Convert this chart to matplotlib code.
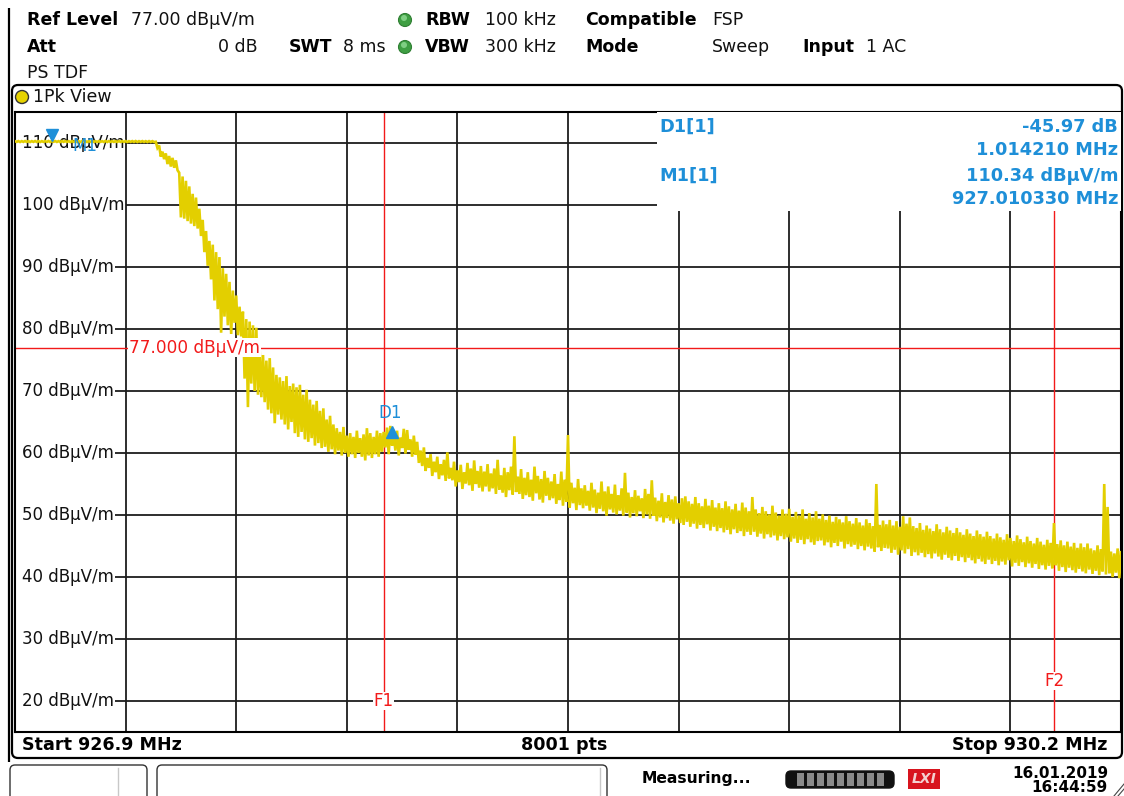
import numpy as np
import matplotlib
matplotlib.use("Agg")
import matplotlib.pyplot as plt
from matplotlib.patches import FancyBboxPatch, Rectangle, Circle
import matplotlib.transforms as mtransforms

# ---------------- data ----------------
start_mhz = 926.9
stop_mhz = 930.2
bin_mhz = 0.01          # display bin width of the peak/floor pairs below

trace_peak = [
    110.30, 110.31, 110.30, 110.32, 110.31, 110.30, 110.32, 110.31, 110.30, 110.31,
    110.32, 110.34, 110.31, 110.30, 110.32, 110.31, 110.30, 110.31, 110.32, 110.30,
    110.31, 110.30, 110.32, 110.31, 110.30, 110.31, 110.30, 110.32, 110.31, 110.30,
    110.31, 110.32, 110.30, 110.31, 110.30, 110.31, 110.32, 110.30, 110.31, 110.30,
    110.31, 110.30, 110.20, 109.6, 108.6, 108.3, 107.9, 107.6, 107.2, 105.2,
    104.6, 103.9, 103.0, 101.8, 101.2, 99.4, 97.6, 95.8, 94.2, 93.6,
    92.4, 91.6, 89.8, 88.9, 87.6, 86.2, 85.4, 83.6, 82.8, 81.6,
    81.2, 80.6, 80.2, 76.6, 75.8, 74.9, 75.3, 73.8, 72.6, 72.2,
    71.6, 72.4, 70.8, 71.2, 70.6, 71.0, 69.4, 70.2, 68.6, 67.8,
    68.4, 66.8, 67.2, 65.4, 66.0, 64.6, 64.0, 63.4, 64.2, 62.8,
    63.2, 62.6, 63.6, 62.4, 63.0, 64.0, 63.2, 62.6, 63.6, 63.2,
    63.4, 64.1, 64.37, 62.9, 63.6, 62.5, 63.9, 63.7, 62.2, 62.8,
    61.8, 60.4, 60.9, 59.2, 59.8, 58.6, 59.4, 58.2, 58.9, 60.1,
    57.6, 58.6, 57.2, 58.1, 56.9, 58.4, 57.5, 58.8, 57.1, 57.9,
    57.0, 58.2, 56.7, 57.5, 58.9, 56.4, 57.6, 56.9, 57.8, 62.7,
    56.2, 57.4, 56.0, 56.9, 55.7, 57.8, 56.3, 55.8, 57.1, 56.0,
    55.4, 56.6, 55.0, 57.0, 55.7, 62.9, 55.2, 54.4, 55.8, 54.3,
    54.8, 53.9, 55.2, 54.1, 53.6, 55.4, 53.8, 54.6, 53.4, 54.9,
    53.2, 54.3, 56.8, 53.6, 52.9, 54.0, 53.1, 52.7, 54.2, 53.4,
    55.6, 52.8, 52.3, 53.5, 52.1, 53.2, 52.5, 53.0, 51.9, 52.7,
    53.0, 52.2, 51.8, 52.9, 51.9, 51.4, 52.6, 51.5, 52.4, 51.2,
    51.9, 51.1, 52.2, 51.4, 50.9, 51.8, 50.7, 52.0, 51.2, 50.6,
    52.9, 50.9, 50.3, 51.3, 50.6, 50.1, 51.5, 50.4, 49.9, 50.9,
    50.2, 51.0, 49.7, 50.5, 49.9, 50.9, 49.4, 50.3, 49.6, 50.6,
    49.4, 50.1, 49.2, 49.9, 48.9, 49.7, 49.3, 48.8, 49.8, 49.0,
    48.6, 49.5, 48.8, 48.3, 49.3, 48.7, 48.2, 55.0, 48.4, 49.1,
    48.5, 49.2, 48.3, 49.0, 48.1, 49.8, 48.6, 49.6, 48.2, 47.9,
    48.7, 47.6, 48.3, 47.8, 47.4, 48.5, 47.7, 47.2, 48.1, 47.5,
    47.1, 47.9, 47.2, 46.8, 47.7, 47.0, 46.6, 47.5, 46.9, 46.5,
    47.3, 46.6, 46.2, 47.0, 46.4, 46.0, 46.9, 46.3, 45.8, 46.7,
    46.1, 45.6, 46.5, 45.8, 45.4, 46.3, 45.7, 45.2, 46.0, 45.5,
    48.7, 45.3, 45.9, 45.1, 45.7, 44.9, 45.5, 44.7, 45.4, 44.8,
    45.4, 44.6, 44.3, 45.1, 44.5, 55.0, 51.3, 44.1, 43.8, 44.6,
    44.2,
]

trace_floor = [
    110.18, 110.16, 110.18, 110.17, 110.16, 110.18, 110.17, 110.16, 110.18, 110.17,
    110.16, 110.20, 110.17, 110.16, 110.18, 110.17, 110.16, 110.18, 110.17, 110.16,
    110.18, 110.16, 110.18, 110.17, 110.16, 110.18, 110.17, 110.16, 110.18, 110.17,
    110.16, 110.18, 110.17, 110.16, 110.18, 110.17, 110.16, 110.18, 110.17, 110.16,
    110.17, 110.16, 109.2, 107.8, 107.4, 106.6, 106.2, 106.0, 105.6, 98.0,
    97.8, 97.4, 97.0, 96.6, 96.2, 95.0, 92.4, 90.2, 88.0, 84.6,
    83.2, 79.4, 82.0, 80.6, 79.2, 81.0, 79.0, 78.8, 72.0, 67.4,
    71.2, 70.0, 69.4, 69.0, 68.2, 67.0, 66.4, 64.8, 66.2, 65.4,
    64.6, 63.8, 65.0, 63.2, 62.6, 63.4, 62.2, 61.8, 62.4, 61.2,
    61.6, 60.8, 61.0, 60.2, 60.6, 59.8, 60.4, 59.6, 60.0, 59.4,
    59.8, 59.2, 60.0, 59.4, 58.8, 59.6, 59.2, 59.8, 59.4, 60.2,
    60.9, 59.8, 61.2, 60.4, 59.6, 60.8, 59.9, 60.5, 59.4, 59.7,
    58.4, 57.9, 57.1, 57.6, 56.3, 56.9, 55.8, 56.4, 55.5, 55.9,
    55.6, 54.6, 55.3, 54.2, 55.1, 54.8, 53.9, 55.0, 54.4, 53.8,
    54.6, 53.8, 54.3, 53.4, 54.1, 53.6, 52.9, 54.0, 53.3, 53.7,
    53.4, 52.6, 53.2, 52.9, 52.3, 53.5, 52.5, 52.0, 53.1, 52.4,
    52.7, 51.8, 52.4, 51.5, 52.1, 51.2, 51.9, 50.8, 51.6, 51.1,
    51.5, 50.7, 51.2, 50.3, 51.0, 50.6, 49.9, 50.9, 50.4, 50.1,
    50.7, 49.9, 50.4, 49.6, 50.3, 49.8, 50.6, 49.5, 50.1, 49.4,
    49.9, 49.0, 49.6, 48.8, 49.5, 49.1, 48.6, 49.3, 48.7, 48.4,
    48.9, 48.1, 48.6, 47.8, 48.4, 47.9, 48.5, 47.5, 48.1, 47.4,
    47.9, 47.2, 47.6, 46.9, 47.7, 47.1, 47.4, 46.6, 47.3, 46.8,
    47.3, 46.5, 47.0, 46.2, 46.9, 46.4, 46.7, 45.9, 46.6, 46.1,
    46.4, 45.7, 46.2, 45.5, 46.0, 45.3, 46.1, 45.6, 45.2, 45.8,
    45.9, 45.1, 45.6, 44.8, 45.5, 45.0, 45.7, 44.6, 45.3, 44.9,
    45.2, 44.5, 45.0, 44.3, 44.9, 44.6, 44.1, 44.8, 44.2, 44.7,
    44.6, 43.9, 44.4, 43.6, 44.3, 43.8, 44.5, 43.4, 44.0, 43.5,
    43.9, 43.2, 43.7, 43.0, 43.8, 43.3, 42.8, 43.6, 43.1, 42.7,
    43.4, 42.6, 43.2, 42.4, 43.1, 42.7, 42.2, 42.9, 42.5, 42.1,
    42.8, 42.1, 42.6, 41.9, 42.5, 42.0, 42.7, 41.7, 42.3, 41.8,
    42.4, 41.6, 42.2, 41.5, 42.1, 41.3, 41.9, 41.2, 41.8, 41.4,
    41.9, 41.0, 41.6, 40.8, 41.5, 41.1, 40.7, 41.3, 40.9, 40.6,
    41.2, 40.5, 41.0, 40.3, 40.9, 40.4, 40.6, 40.0, 40.7, 39.8,
    40.6,
]

y_ticks = [20, 30, 40, 50, 60, 70, 80, 90, 100, 110]
y_min, y_max = 15, 115
ref_level = 77.0
f1_mhz = 928.0
f2_mhz = 930.0
m1_freq = 927.010330
m1_level = 110.34
d1_delta_freq = 1.014210
d1_delta_db = -45.97

# ---------------- styles ----------------
YEL = "#e3cf00"
BLUE = "#1e8fd8"
RED = "#f21a1a"
GRID = "#1c1c1c"
FONT = "DejaVu Sans"
plt.rcParams["font.family"] = [FONT]

W, H = 1124, 796
fig = plt.figure(figsize=(W / 100, H / 100), dpi=100)
fig.patch.set_facecolor("white")

bg = fig.add_axes([0, 0, 1, 1], zorder=0)
bg.set_xlim(0, W); bg.set_ylim(H, 0); bg.axis("off")

ax = fig.add_axes([15 / W, 1 - 732 / H, 1106 / W, 620 / H], zorder=2)
ax.set_xlim(start_mhz, stop_mhz)
ax.set_ylim(y_min, y_max)
ax.set_xticks([]); ax.set_yticks([])
ax.set_facecolor("white")
for s in ax.spines.values():
    s.set_color("black"); s.set_linewidth(1.5)

fg = fig.add_axes([0, 0, 1, 1], zorder=3)
fg.set_xlim(0, W); fg.set_ylim(H, 0); fg.axis("off"); fg.patch.set_alpha(0)

# grid
span = stop_mhz - start_mhz
for k in range(1, 10):
    ax.axvline(start_mhz + k * span / 10, color=GRID, lw=1.3, zorder=1.6)
for yv in y_ticks:
    ax.axhline(yv, color=GRID, lw=1.3, zorder=1)
ylab_tr = mtransforms.blended_transform_factory(ax.transAxes, ax.transData)
for yv in y_ticks:
    ax.add_patch(Rectangle((0, yv - 1.0), 9 / 1106, 2.0, transform=ylab_tr,
                           facecolor="white", edgecolor="none", zorder=1.4))
    ax.text(7 / 1106, yv, f"{yv} dBμV/m", transform=ylab_tr, ha="left", va="center",
            fontsize=12, color="#111111", zorder=1.5,
            bbox=dict(facecolor="white", edgecolor="none", pad=1.0))

# reference and frequency lines
ax.axhline(ref_level, color=RED, lw=1.0, zorder=2.5)
ax.text(114 / 1106, ref_level, f"{ref_level:.3f} dBμV/m", transform=ylab_tr,
        ha="left", va="center", fontsize=12.2, color=RED, zorder=4,
        bbox=dict(facecolor="white", edgecolor="none", pad=0.5))
for fmhz in (f1_mhz, f2_mhz):
    ax.axvline(fmhz, color=RED, lw=1.0, zorder=2.5)
flab_tr = mtransforms.blended_transform_factory(ax.transData, ax.transAxes)
ax.text(f1_mhz, (732 - 701) / 620, "F1", transform=flab_tr, ha="center", va="center",
        fontsize=12, color=RED, zorder=4,
        bbox=dict(facecolor="white", edgecolor="none", pad=0.3))
ax.text(f2_mhz, (732 - 681) / 620, "F2", transform=flab_tr, ha="center", va="center",
        fontsize=12, color=RED, zorder=4,
        bbox=dict(facecolor="white", edgecolor="none", pad=0.3))

# trace (peak/floor per display bin, drawn as the analyser does)
n = min(len(trace_peak), len(trace_floor))
freqs = start_mhz + bin_mhz * np.arange(n)
xz = np.column_stack([freqs, freqs + bin_mhz / 2]).ravel()
yz = np.column_stack([np.array(trace_peak[:n]), np.array(trace_floor[:n])]).ravel()
ax.plot(xz, yz, color=YEL, lw=1.9, zorder=3, solid_joinstyle="miter")

# markers
d1_freq = m1_freq + d1_delta_freq
d1_level = m1_level + d1_delta_db
up = mtransforms.offset_copy(ax.transData, fig=fig, y=4.2, units="points")
dn = mtransforms.offset_copy(ax.transData, fig=fig, y=-4.2, units="points")
ax.plot([m1_freq], [m1_level], marker="v", ms=9, color=BLUE, transform=up, zorder=5,
        clip_on=False)
ax.plot([d1_freq], [d1_level], marker="^", ms=9, color=BLUE, transform=dn, zorder=5)
ax.annotate("M1", (m1_freq, m1_level), xytext=(24, -3.5), textcoords="offset points",
            ha="center", va="center", fontsize=12, color=BLUE, zorder=5)
ax.annotate("D1", (d1_freq, d1_level), xytext=(-1, 9.5), textcoords="offset points",
            ha="center", va="center", fontsize=12, color=BLUE, zorder=5)

# marker info box
ax.add_patch(Rectangle(((657 - 15) / 1106, (732 - 211) / 620), 1, 1, transform=ax.transAxes,
                       facecolor="white", edgecolor="none", zorder=3.8))
ib = dict(fontsize=12.8, fontweight="bold", color=BLUE, va="center")
fg.text(659, 127, "D1[1]", ha="left", **ib)
fg.text(659, 176, "M1[1]", ha="left", **ib)
fg.text(1118, 127, f"{d1_delta_db:.2f} dB", ha="right", **ib)
fg.text(1118, 150, f"{d1_delta_freq:.6f} MHz", ha="right", **ib)
fg.text(1118, 176, f"{m1_level:.2f} dBμV/m", ha="right", **ib)
fg.text(1118, 199, f"{m1_freq:.6f} MHz", ha="right", **ib)

# ---------------- header ----------------
hb = dict(fontsize=12.5, fontweight="bold", color="black", va="center")
hr = dict(fontsize=12.5, color="#111111", va="center")
bg.text(27, 20, "Ref Level", ha="left", **hb)
bg.text(131, 20, f"{ref_level:.2f} dBμV/m", ha="left", **hr)
bg.text(27, 47, "Att", ha="left", **hb)
bg.text(258, 47, "0 dB", ha="right", **hr)
bg.text(289, 47, "SWT", ha="left", **hb)
bg.text(343, 47, "8 ms", ha="left", **hr)
bg.text(27, 73, "PS TDF", ha="left", **hr)
for yy in (20, 47):
    bg.add_patch(Circle((405, yy), 6.5, facecolor="#3f9f43", edgecolor="#2f7f33", lw=0.8))
    bg.add_patch(Circle((404, yy - 2), 3.0, facecolor="#7fcf83", edgecolor="none"))
bg.text(425, 20, "RBW", ha="left", **hb)
bg.text(485, 20, "100 kHz", ha="left", **hr)
bg.text(425, 47, "VBW", ha="left", **hb)
bg.text(485, 47, "300 kHz", ha="left", **hr)
bg.text(585, 20, "Compatible", ha="left", **hb)
bg.text(712, 20, "FSP", ha="left", **hr)
bg.text(585, 47, "Mode", ha="left", **hb)
bg.text(712, 47, "Sweep", ha="left", **hr)
bg.text(802, 47, "Input", ha="left", **hb)
bg.text(866, 47, "1 AC", ha="left", **hr)

# window frame
bg.plot([8.5, 8.5], [8, 762], color="black", lw=1.6, solid_capstyle="butt")
bg.add_patch(FancyBboxPatch((12, 85), 1110, 673, boxstyle="round,pad=0,rounding_size=6",
                            facecolor="white", edgecolor="black", lw=1.6))
bg.add_patch(Circle((22, 97), 6.5, facecolor="#e6d200", edgecolor="#333333", lw=1.0))
bg.text(33, 97, "1Pk View", ha="left", va="center", fontsize=12.5, color="#111111")

# status bar
sb = dict(fontsize=12.6, fontweight="bold", color="black", va="center")
bg.text(22, 745, f"Start {start_mhz:.1f} MHz", ha="left", **sb)
bg.text(564, 745, f"{2 * 4000 + 1} pts", ha="center", **sb)
bg.text(1108, 745, f"Stop {stop_mhz:.1f} MHz", ha="right", **sb)

# task bar
bg.add_patch(FancyBboxPatch((10, 765), 137, 40, boxstyle="round,pad=0,rounding_size=5",
                            facecolor="white", edgecolor="#333333", lw=1.0))
bg.plot([118, 118], [768, 796], color="#c8c8c8", lw=1.0)
bg.add_patch(FancyBboxPatch((157, 765), 450, 40, boxstyle="round,pad=0,rounding_size=5",
                            facecolor="white", edgecolor="#333333", lw=1.0))
bg.plot([600, 600], [768, 796], color="#c8c8c8", lw=1.0)
bg.text(642, 779, "Measuring...", ha="left", va="center", fontsize=11.2,
        fontweight="bold", color="black")
bg.add_patch(FancyBboxPatch((786, 771), 108, 17, boxstyle="round,pad=0,rounding_size=5",
                            facecolor="#111111", edgecolor="#111111", lw=1.0))
for xs in range(797, 886, 10):
    bg.add_patch(Rectangle((xs, 773), 7, 13, facecolor="#8a8a8a", edgecolor="none"))
bg.add_patch(Rectangle((908, 769), 32, 20, facecolor="#d8141e", edgecolor="none"))
bg.text(924, 779, "LXI", ha="center", va="center", fontsize=10, fontweight="bold",
        fontstyle="italic", color="#f4d0d0")
bg.text(1108, 773, "16.01.2019", ha="right", va="center", fontsize=11,
        fontweight="bold", color="black")
bg.text(1108, 788, "16:44:59", ha="right", va="center", fontsize=11,
        fontweight="bold", color="black")
bg.plot([1114, 1124], [796, 784], color="#444444", lw=0.8)
bg.plot([1118, 1124], [796, 789], color="#444444", lw=0.8)

fig.savefig("out.png", dpi=100, facecolor="white")
